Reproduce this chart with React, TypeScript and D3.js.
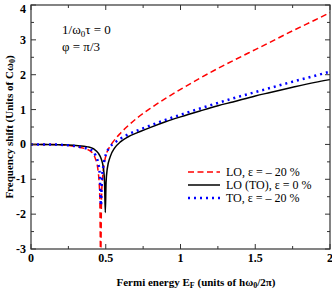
import React from "react";
import * as d3 from "d3";

// Fermi energy (units of hw0/2pi) vs frequency shift (units of Cw0)
const loX = [0, 0.1, 0.2, 0.3, 0.36, 0.4, 0.43, 0.45, 0.46, 0.466, 0.472, 0.48, 0.49, 0.51, 0.53, 0.55, 0.6, 0.64, 0.71, 0.8, 0.9, 1.0, 1.13, 1.25, 1.35, 1.5, 1.58, 1.75, 1.9, 2.0];
const loY = [0, 0, -0.01, -0.06, -0.12, -0.2, -0.4, -0.8, -1.5, -3.4, -1.5, -0.9, -0.55, -0.2, -0.05, 0.08, 0.33, 0.5, 0.76, 1.04, 1.32, 1.58, 1.9, 2.18, 2.4, 2.72, 2.89, 3.26, 3.57, 3.78];

const loToX = [0, 0.1, 0.2, 0.3, 0.38, 0.42, 0.45, 0.47, 0.485, 0.492, 0.497, 0.502, 0.51, 0.53, 0.56, 0.6, 0.65, 0.73, 0.8, 0.9, 1.0, 1.13, 1.25, 1.35, 1.5, 1.6, 1.75, 1.9, 2.0];
const loToY = [0, 0, -0.01, -0.03, -0.07, -0.13, -0.25, -0.42, -0.7, -1.1, -1.95, -1.1, -0.7, -0.35, -0.1, 0.08, 0.22, 0.37, 0.49, 0.65, 0.79, 0.96, 1.11, 1.22, 1.39, 1.49, 1.64, 1.78, 1.86];

const toX = [0, 0.1, 0.2, 0.3, 0.36, 0.4, 0.43, 0.45, 0.46, 0.468, 0.474, 0.485, 0.5, 0.52, 0.56, 0.6, 0.65, 0.73, 0.82, 0.91, 1.0, 1.13, 1.25, 1.35, 1.5, 1.6, 1.75, 1.9, 2.0];
const toY = [0, 0, -0.01, -0.05, -0.1, -0.15, -0.3, -0.55, -0.85, -1.75, -1.0, -0.6, -0.3, -0.12, 0.05, 0.17, 0.29, 0.43, 0.58, 0.72, 0.85, 1.03, 1.19, 1.32, 1.5, 1.62, 1.8, 1.97, 2.09];

const xTicks = [0, 0.5, 1, 1.5, 2];
const yTicks = [-3, -2, -1, 0, 1, 2, 3, 4];
const legendLabels = ["LO, \u03b5 = \u2013 20 %", "LO (TO), \u03b5 = 0 %", "TO, \u03b5 = \u2013 20 %"];

const width = 332;
const height = 289;
const m = { left: 31, right: 330, top: 5, bottom: 249 };
const font = "'Liberation Serif', 'DejaVu Serif', serif";

const App: React.FC = () => {
  const x = d3.scaleLinear().domain([0, 2]).range([m.left, m.right]);
  const y = d3.scaleLinear().domain([-3, 4]).range([m.bottom, m.top]);

  const line = d3
    .line<[number, number]>()
    .x((d) => x(d[0]))
    .y((d) => y(d[1]))
    .curve(d3.curveMonotoneX);

  const zip = (xs: number[], ys: number[]) => xs.map((v, i) => [v, ys[i]] as [number, number]);

  const series = [
    { d: zip(loX, loY), stroke: "#ff0000", dash: "6,3.5", w: 1.5 },
    { d: zip(loToX, loToY), stroke: "#000000", dash: "none", w: 1.5 },
    { d: zip(toX, toY), stroke: "#0000ff", dash: "2,4", w: 2.5 },
  ];

  const xMinor = d3.range(0, 2.001, 0.25);
  const yMinor = d3.range(-3, 4.001, 0.5);

  return (
    <svg width={width} height={height} style={{ position: "absolute", left: 0, top: 0 }} fontFamily={font}>
      <defs>
        <clipPath id="plot">
          <rect x={m.left} y={m.top} width={m.right - m.left} height={m.bottom - m.top} />
        </clipPath>
      </defs>
      <g clipPath="url(#plot)">
        {series.map((s, i) => (
          <path key={i} d={line(s.d) || ""} fill="none" stroke={s.stroke} strokeWidth={s.w} strokeDasharray={s.dash} />
        ))}
      </g>
      <rect x={m.left} y={m.top} width={m.right - m.left} height={m.bottom - m.top} fill="none" stroke="#333" strokeWidth={1.2} />
      {xMinor.map((v, i) => {
        const len = i % 2 === 0 ? 5 : 3;
        return (
          <g key={"xt" + i} stroke="#333">
            <line x1={x(v)} x2={x(v)} y1={m.bottom} y2={m.bottom - len} />
            <line x1={x(v)} x2={x(v)} y1={m.top} y2={m.top + len} />
          </g>
        );
      })}
      {yMinor.map((v, i) => {
        const len = i % 2 === 0 ? 5 : 3;
        return (
          <g key={"yt" + i} stroke="#333">
            <line x1={m.left} x2={m.left + len} y1={y(v)} y2={y(v)} />
            <line x1={m.right} x2={m.right - len} y1={y(v)} y2={y(v)} />
          </g>
        );
      })}
      {xTicks.map((v) => (
        <text key={"xl" + v} x={x(v)} y={262} textAnchor="middle" fontSize={12} fontWeight="bold">
          {v}
        </text>
      ))}
      {yTicks.map((v) => (
        <text key={"yl" + v} x={26} y={Math.max(y(v) + 4, 13)} textAnchor="end" fontSize={12} fontWeight="bold">
          {v}
        </text>
      ))}
      <text x={196} y={286} textAnchor="middle" fontSize={11} fontWeight="bold">
        Fermi energy E<tspan dy={2} fontSize={8}>F</tspan>
        <tspan dy={-2}> (units of h{"\u03c9"}</tspan>
        <tspan dy={2} fontSize={8}>0</tspan>
        <tspan dy={-2}>/2{"\u03c0"})</tspan>
      </text>
      <text transform="translate(13,127) rotate(-90)" textAnchor="middle" fontSize={11} fontWeight="bold">
        Frequency shift (Units of C{"\u03c9"}
        <tspan dy={2} fontSize={8}>0</tspan>
        <tspan dy={-2}>)</tspan>
      </text>
      <text x={62} y={34} fontSize={13}>
        1/{"\u03c9"}
        <tspan dy={3} fontSize={9}>0</tspan>
        <tspan dy={-3}>{"\u03c4"} = 0</tspan>
      </text>
      <text x={62} y={51} fontSize={13}>
        {"\u03c6"} = {"\u03c0"}/3
      </text>
      {series.map((s, i) => {
        const ly = 172 + i * 13;
        return (
          <g key={"lg" + i}>
            <line x1={188} x2={220} y1={ly} y2={ly} stroke={s.stroke} strokeWidth={s.w} strokeDasharray={s.dash} />
            <text x={226} y={ly + 4} fontSize={12}>
              {legendLabels[i]}
            </text>
          </g>
        );
      })}
    </svg>
  );
};

export default App;
